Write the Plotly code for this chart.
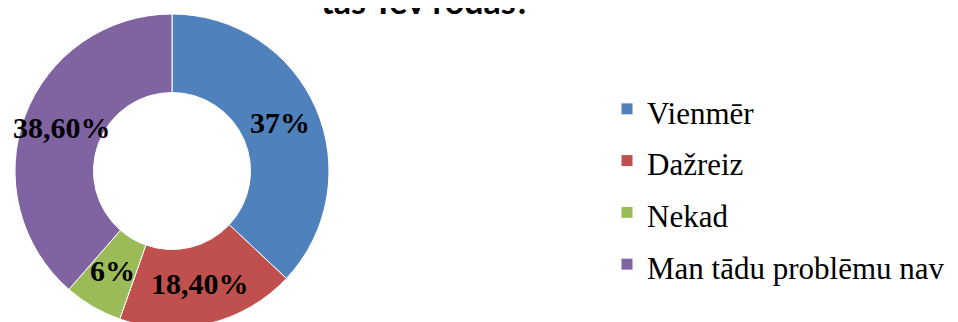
import math
import plotly.graph_objects as go

categories = ["Vienmēr", "Dažreiz", "Nekad", "Man tādu problēmu nav"]
values = [37.0, 18.4, 6.0, 38.6]
value_labels = ["37%", "18,40%", "6%", "38,60%"]
colors = ["#4F81BD", "#C0504D", "#9BBB59", "#8064A2"]
title_text = "tās Tev rodas?"

W, H = 958, 322
HOLE = 0.5

dom_x = [7 / W, 321 / W]
dom_y = [2 / H, 316 / H]

legend_labels = ["<span style='font-size:31px'>%s</span>" % c for c in categories]

fig = go.Figure()
fig.add_trace(go.Pie(
    labels=legend_labels,
    values=values,
    textinfo="none",
    sort=False,
    direction="clockwise",
    rotation=0,
    hole=HOLE,
    marker=dict(colors=colors, line=dict(color="white", width=1)),
    domain=dict(x=dom_x, y=dom_y),
    hoverinfo="label+percent",
))

# value labels placed at the middle of each ring segment
cx_px = (dom_x[0] + dom_x[1]) / 2 * W
cy_px = (dom_y[0] + dom_y[1]) / 2 * H
radius_px = min((dom_x[1] - dom_x[0]) * W, (dom_y[1] - dom_y[0]) * H) / 2
r_mid = radius_px * (1 + HOLE) / 2
total = sum(values)
cum = 0.0
for v, lab in zip(values, value_labels):
    mid = (cum + v / 2) / total * 2 * math.pi
    cum += v
    px = cx_px + r_mid * math.sin(mid)
    py = cy_px + r_mid * math.cos(mid)
    fig.add_annotation(
        text="<b>%s</b>" % lab, xref="paper", yref="paper",
        x=px / W, y=py / H, xanchor="center", yanchor="middle", yshift=2,
        showarrow=False,
        font=dict(family="Liberation Serif", size=30, color="black"),
    )

fig.add_annotation(
    text="<b>%s</b>" % title_text,
    xref="paper", yref="paper", x=418 / W, y=1,
    xanchor="center", yanchor="middle", yshift=8,
    showarrow=False,
    font=dict(family="Lato", size=34, color="black"),
)

fig.update_layout(
    width=W, height=H,
    margin=dict(l=0, r=0, t=0, b=0),
    paper_bgcolor="white",
    plot_bgcolor="white",
    showlegend=True,
    legend=dict(
        x=599 / W, y=1 - 70 / H, xanchor="left", yanchor="top",
        font=dict(family="Liberation Serif", size=37.5, color="black"),
        bgcolor="rgba(0,0,0,0)",
    ),
)

fig.write_html("out.html")
